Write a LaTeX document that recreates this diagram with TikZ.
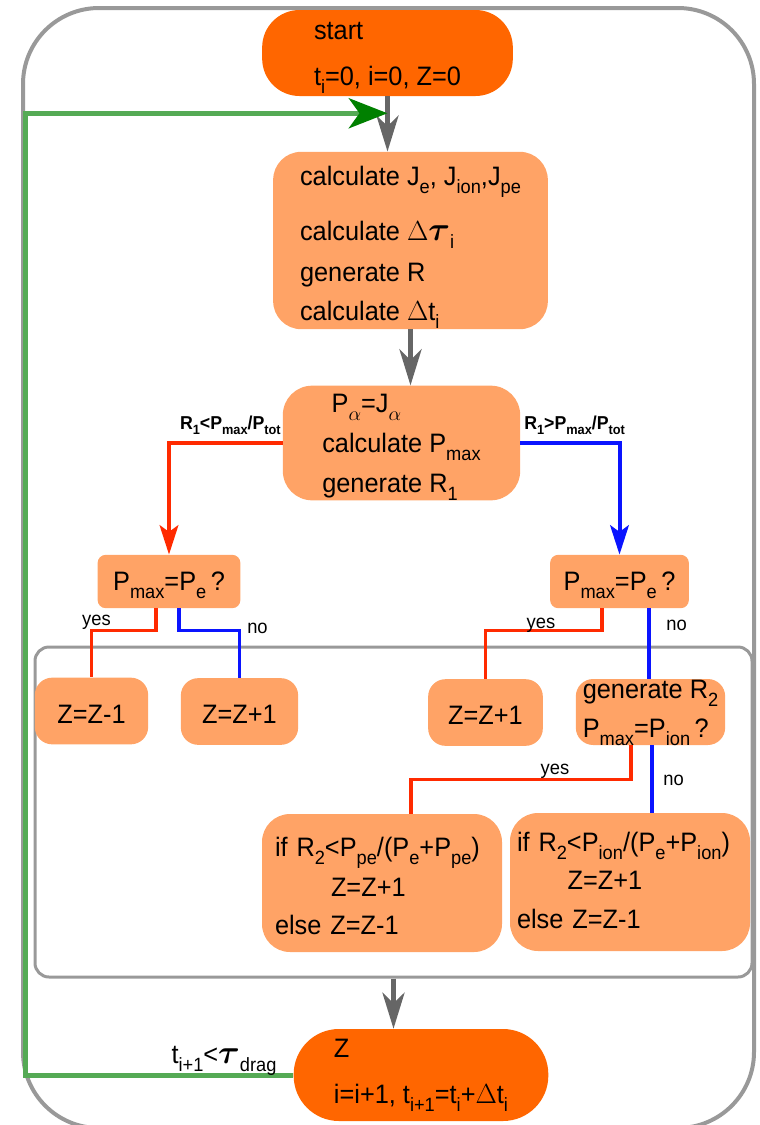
\documentclass[tikz,border=0pt]{standalone}
\usepackage{amsmath}
\usepackage{graphicx}
\usepackage{fontspec}
\setmainfont{Liberation Sans}[FakeStretch=0.95]
\usepackage{tikz}
\usetikzlibrary{arrows.meta,calc}

\definecolor{startorange}{HTML}{FF6600}
\definecolor{boxorange}{HTML}{FFA366}
\definecolor{framegray}{HTML}{999999}
\definecolor{arrowgray}{HTML}{666666}
\definecolor{yesred}{HTML}{FF2A00}
\definecolor{noblue}{HTML}{0A14FF}
\definecolor{loopgreen}{HTML}{55AA55}
\definecolor{headgreen}{HTML}{008000}

\newcommand{\sbs}[1]{\raisebox{-0.3em}{\scalebox{0.72}{#1}}}
\newcommand{\bigtau}{\scalebox{1.2}{$\boldsymbol{\tau}$}}

\begin{document}
\begin{tikzpicture}[x=0.75pt, y=-0.75pt,
    every node/.append style={font=\fontsize{20}{29}\selectfont, inner sep=0pt},
    terminal/.style={fill=startorange, rounded corners=#1, align=left},
    procbox/.style={fill=boxorange, rounded corners=#1, align=left},
    procbox/.default=13pt,
    lift/.style={text height=#1, text depth=3pt},
    framebox/.style={draw=framegray, line width=#1},
    flowarrow/.style={draw=arrowgray, line width=3.75pt,
                      -{Stealth[length=27pt, width=16.5pt, inset=8pt]}},
    branch/.style={draw=#1, line width=3pt,
                   -{Stealth[length=22pt, width=14pt, inset=5pt]}},
    answerline/.style={draw=#1, line width=2.4pt},
    answer/.style={font=\fontsize{14.5}{16}\selectfont},
    cond/.style={font=\bfseries\fontsize{14}{16}\selectfont},
    loopline/.style={draw=loopgreen, line width=3.75pt,
                     -{Stealth[length=29pt, width=22.5pt, inset=8pt, color=headgreen]}}
]
\useasboundingbox (0,0) rectangle (760,1125);
\clip (0,0) rectangle (760,1125);

%% outer frame
\draw[framebox=3pt, rounded corners=57pt] (23,8) rectangle (754,1128);

%% start and main steps
\node[terminal=28pt, lift=51pt, minimum width=188pt, minimum height=64.5pt] (start) at (387.5,53)
  {start\\[5pt]t\sbs{i}=0, i=0, Z=0};
\node[procbox=21pt, lift=122.25pt, minimum width=206pt, minimum height=133pt] (calc) at (410.5,240.5)
  {calculate J\sbs{e}, J\sbs{ion},J\sbs{pe}\\[12pt]calculate $\Delta$\bigtau\sbs{i}\\[2pt]generate R\\calculate $\Delta$t\sbs{i}};
\node[procbox=22pt, lift=76.5pt, minimum width=178pt, minimum height=86pt] (prob) at (401.5,443)
  {\hspace*{7pt}P\sbs{$\alpha$}=J\sbs{$\alpha$}\\[1pt]calculate P\sbs{max}\\[1pt]generate R\sbs{1}};

%% first questions
\node[procbox=6pt, lift=15.75pt, minimum width=107pt, minimum height=40pt] (askL) at (169,581.5) {P\sbs{max}=P\sbs{e}\,?};
\node[procbox=6pt, lift=15.75pt, minimum width=104pt, minimum height=40pt] (askR) at (619.5,581.5) {P\sbs{max}=P\sbs{e}\,?};

%% charge update block
\node[framebox=2.25pt, rounded corners=10.5pt, minimum width=537.75pt, minimum height=247.5pt] (inner) at (393.5,812) {};
\node[procbox, lift=21pt, minimum width=85pt, minimum height=50pt] (decL) at (91.5,711) {Z=Z-1};
\node[procbox, lift=21pt, minimum width=88pt, minimum height=50pt] (incL) at (239.5,711.5) {Z=Z+1};
\node[procbox, lift=21pt, minimum width=86pt, minimum height=50pt] (incR) at (485.5,712.5) {Z=Z+1};
\node[procbox, lift=40.5pt, minimum width=112pt, minimum height=49.5pt] (askion) at (650.5,712)
  {generate R\sbs{2}\\P\sbs{max}=P\sbs{ion}\,?};
\node[procbox=21pt, text height=9.5pt, text depth=50pt, text width=160.5pt, inner xsep=9.75pt, minimum height=103.5pt] (peL) at (382,883)
  {if R\sbs{2}<P\sbs{pe}/(P\sbs{e}+P\sbs{pe})\\[1pt]\hspace*{42pt}Z=Z+1\\else Z=Z-1};
\node[procbox=21pt, text height=8.5pt, text depth=55pt, text width=169.5pt, inner xsep=5.25pt, minimum height=103.5pt] (ionR) at (630,882)
  {if R\sbs{2}<P\sbs{ion}/(P\sbs{e}+P\sbs{ion})\\\hspace*{38pt}Z=Z+1\\else Z=Z-1};

%% end of step
\node[terminal=34pt, lift=45pt, minimum width=191pt, minimum height=69pt] (zfin) at (421,1075)
  {Z\\[5pt]i=i+1, t\sbs{i+1}=t\sbs{i}+$\Delta$t\sbs{i}};

%% main flow
\draw[flowarrow] (start.south) -- (start.south |- calc.north);
\draw[flowarrow] (calc.south) -- (calc.south |- prob.north);
\draw[flowarrow] (inner.south) -- (inner.south |- zfin.north);

%% R1 branches
\draw[branch=yesred] (prob.west) -| (askL.north);
\draw[branch=noblue] (prob.east) -| (askR.north);
\node[cond, anchor=base east] (condL) at (281,429) {R\sbs{1}<P\sbs{max}/P\sbs{tot}};
\node[cond, anchor=base west] (condR) at (524,429) {R\sbs{1}>P\sbs{max}/P\sbs{tot}};

%% yes / no
\draw[answerline=yesred] ($(askL.south)+(-13,0)$) -- ++(0,22) -| (decL.north);
\draw[answerline=noblue] ($(askL.south)+(10,0)$) -- ++(0,22) -| (incL.north);
\draw[answerline=yesred] ($(askR.south)+(-17.5,0)$) -- ++(0,22) -| (incR.north);
\coordinate (noR) at ($(askR.south)+(29.5,0)$);
\draw[answerline=noblue] (noR) -- (noR |- askion.north);
\draw[answerline=yesred] ($(askion.south)+(-19.5,0)$) -- ++(0,34) -| ($(peL.north)+(29,0)$);
\coordinate (noion) at ($(askion.south)+(1.5,0)$);
\draw[answerline=noblue] (noion) -- (noion |- ionR.north);
\node[answer, anchor=base] (yesL) at (96.5,625) {yes};
\node[answer, anchor=base] (noL) at (257.5,633) {no};
\node[answer, anchor=base] (yesR) at (541,628) {yes};
\node[answer, anchor=base] (noRt) at (676.5,630) {no};
\node[answer, anchor=base] (yesion) at (555,774) {yes};
\node[answer, anchor=base] (noiont) at (673.5,785) {no};

%% time loop
\coordinate (loopin) at ($(start.south)+(0,17)$);
\draw[loopline] (zfin.west) -- ++(-268,0) |- (loopin);
\node[anchor=base] (tcond) at (224,1063) {t\sbs{i+1}<\bigtau\sbs{drag}};

\end{tikzpicture}
\end{document}
